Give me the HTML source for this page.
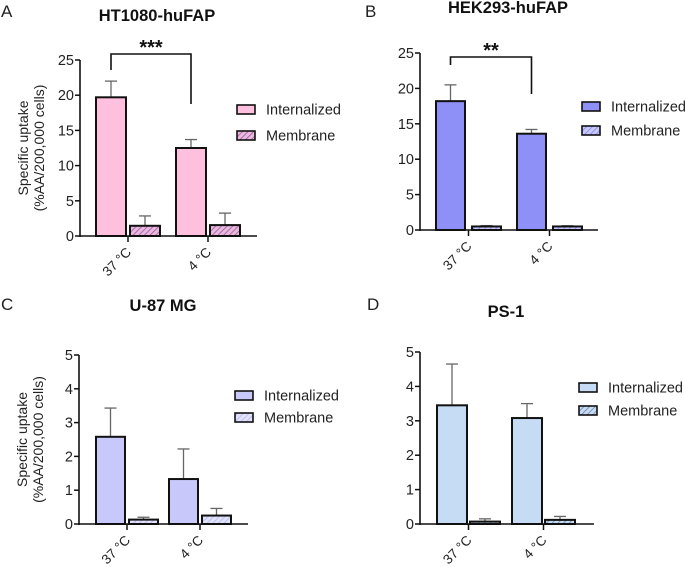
<!DOCTYPE html>
<html><head><meta charset="utf-8"><style>
body{margin:0;background:#fff}
svg{display:block;font-family:"Liberation Sans",Arial,sans-serif}
</style></head><body>
<svg id="c" width="685" height="567" viewBox="0 0 685 567">
<defs>
<pattern id="hA" patternUnits="userSpaceOnUse" width="4" height="4" patternTransform="rotate(45)"><rect width="4" height="4" fill="#e8b8e0"/><line x1="0" y1="0" x2="0" y2="4" stroke="#9a5a90" stroke-width="1.6"/></pattern>
<pattern id="hB" patternUnits="userSpaceOnUse" width="4" height="4" patternTransform="rotate(45)"><rect width="4" height="4" fill="#c8c8fb"/><line x1="0" y1="0" x2="0" y2="4" stroke="#7b7bf0" stroke-width="1.4"/></pattern>
<pattern id="hC" patternUnits="userSpaceOnUse" width="4" height="4" patternTransform="rotate(45)"><rect width="4" height="4" fill="#e2e2fc"/><line x1="0" y1="0" x2="0" y2="4" stroke="#b0b0f0" stroke-width="1.4"/></pattern>
<pattern id="hD" patternUnits="userSpaceOnUse" width="4" height="4" patternTransform="rotate(45)"><rect width="4" height="4" fill="#c6dcf5"/><line x1="0" y1="0" x2="0" y2="4" stroke="#667c99" stroke-width="1.4"/></pattern>
</defs>
</svg>
<script>
const categories=["37 °C","4 °C"];
const seriesNames=["Internalized","Membrane"];
const titles=["HT1080-huFAP","HEK293-huFAP","U-87 MG","PS-1"];
const intA=[19.7,12.5], intAErr=[22.0,13.7], memA=[1.45,1.55], memAErr=[2.85,3.25];
const intB=[18.2,13.6], intBErr=[20.5,14.2], memB=[0.5,0.5], memBErr=[0.62,0.6];
const intC=[2.58,1.33], intCErr=[3.43,2.22], memC=[0.13,0.25], memCErr=[0.2,0.46];
const intD=[3.45,3.08], intDErr=[4.65,3.5], memD=[0.07,0.12], memDErr=[0.15,0.22];
const ticks25=[0,5,10,15,20,25], ticks5=[0,1,2,3,4,5];
const sigA="***", sigB="**";

const svg=document.getElementById('c');
const NS='http://www.w3.org/2000/svg';
function mk(tag,attrs,parent,text){const e=document.createElementNS(NS,tag);for(const k in attrs)e.setAttribute(k,attrs[k]);if(text!==undefined)e.textContent=text;(parent||svg).appendChild(e);return e;}

const panels=[
 {id:'a',letter:'A',lx:1,ly:17,title:titles[0],tx:157,ty:21,ax:80,y0:236,ytop:60,xend:257,max:25,ticks:ticks25,
  gx:[96,176],bw:30,gap:4,int:intA,intE:intAErr,mem:memA,memE:memAErr,fill:'#ffc0df',hatch:'url(#hA)',
  legX:237,legY:[109,135],sig:sigA,br:{y:54,l:70,r:104},ytitle:true},
 {id:'b',letter:'B',lx:365,ly:17,title:titles[1],tx:508,ty:13,ax:420,y0:230,ytop:53,xend:598,max:25,ticks:ticks25,
  gx:[436,517],bw:29,gap:7,int:intB,intE:intBErr,mem:memB,memE:memBErr,fill:'#8f8ff8',hatch:'url(#hB)',
  legX:582,legY:[106,130],sig:sigB,br:{y:57,l:65,r:94},ytitle:false},
 {id:'c',letter:'C',lx:1,ly:310,title:titles[2],tx:163,ty:311,ax:79,y0:524,ytop:355,xend:248,max:5,ticks:ticks5,
  gx:[96,169],bw:29,gap:4,int:intC,intE:intCErr,mem:memC,memE:memCErr,fill:'#c8c8fa',hatch:'url(#hC)',
  legX:235,legY:[395,417],sig:null,ytitle:true},
 {id:'d',letter:'D',lx:367,ly:310,title:titles[3],tx:506,ty:317,ax:420,y0:524,ytop:352,xend:594,max:5,ticks:ticks5,
  gx:[437,512],bw:30,gap:3,int:intD,intE:intDErr,mem:memD,memE:memDErr,fill:'#c6dcf5',hatch:'url(#hD)',
  legX:579,legY:[387,410],sig:null,ytitle:false}
];

panels.forEach(p=>{
 const g=mk('g',{});
 
 
 const y=v=>p.y0-(v/p.max)*(p.y0-p.ytop);
 const L=mk('text',{x:p.lx,y:p.ly,'font-size':17,fill:'#222'},g,p.letter);
 
 const T=mk('text',{x:p.tx,y:p.ty,'font-size':16.5,'font-weight':'bold','text-anchor':'middle',fill:'#111'},g,p.title);
 
 for(let i=0;i<categories.length;i++){
  const series=[[p.int,p.intE,p.fill,'internalized'],[p.mem,p.memE,p.hatch,'membrane']];
  series.forEach((s,j)=>{
   const x=p.gx[i]+j*(p.bw+p.gap), v=s[0][i], e=s[1][i], cx=x+p.bw/2;
   const el=mk('line',{x1:cx,x2:cx,y1:y(v),y2:y(e),stroke:'#666','stroke-width':1.3},g);
   
   const cap=mk('line',{x1:cx-6,x2:cx+6,y1:y(e),y2:y(e),stroke:'#666','stroke-width':1.3},g);
   
   const r=mk('rect',{x:x,y:y(v),width:p.bw,height:p.y0-y(v),fill:s[2],stroke:'#111','stroke-width':2},g);
   
  });
  const tx=p.gx[i]+p.bw+p.gap/2;
  const tk=mk('line',{x1:tx,x2:tx,y1:p.y0,y2:p.y0+6,stroke:'#111','stroke-width':1.5},g);
  
  const lb=mk('text',{x:tx+4,y:p.y0+17,'font-size':13.5,'text-anchor':'end',fill:'#222',transform:`rotate(-45 ${tx+4} ${p.y0+17})`},g,categories[i]);
  
 }
 const ya=mk('line',{x1:p.ax,x2:p.ax,y1:p.ytop,y2:p.y0+1,stroke:'#111','stroke-width':1.6},g);
 
 const xa=mk('line',{x1:p.ax,x2:p.xend,y1:p.y0,y2:p.y0,stroke:'#111','stroke-width':1.6},g);
 
 p.ticks.forEach(t=>{
  const l=mk('line',{x1:p.ax-5,x2:p.ax,y1:y(t),y2:y(t),stroke:'#111','stroke-width':1.5},g);
  
  const tt=mk('text',{x:p.ax-6,y:y(t)+5,'font-size':14.5,'text-anchor':'end',fill:'#222'},g,String(t));
  
 });
 if(p.ytitle){
  const cy=(p.y0+p.ytop)/2;
  const t1=mk('text',{x:0,y:0,'font-size':14,'text-anchor':'middle',fill:'#222',transform:`translate(${p.ax-52} ${cy}) rotate(-90)`},g,'Specific uptake');
  
  const t2=mk('text',{x:0,y:16,'font-size':14,'text-anchor':'middle',fill:'#222',transform:`translate(${p.ax-52} ${cy}) rotate(-90)`},g,'(%AA/200,000 cells)');
  
 }
 if(p.sig){
  const lx=p.gx[0]+p.bw/2, rx=p.gx[1]+p.bw/2;
  const pl=mk('polyline',{points:`${lx},${p.br.l} ${lx},${p.br.y} ${rx},${p.br.y} ${rx},${p.br.r}`,fill:'none',stroke:'#111','stroke-width':1.6},g);
  
  const st=mk('text',{x:(lx+rx)/2,y:p.br.y,'font-size':20,'font-weight':'bold','text-anchor':'middle',fill:'#111'},g,p.sig);
  
 }
 [[p.fill,seriesNames[0]],[p.hatch,seriesNames[1]]].forEach((s,j)=>{
  const r=mk('rect',{x:p.legX,y:p.legY[j]-4,width:18,height:9,fill:s[0],stroke:'#111','stroke-width':1.6},g);
  
  const t=mk('text',{x:p.legX+29,y:p.legY[j]+5.5,'font-size':14.5,fill:'#222'},g,s[1]);
  
 });
});
</script>
</body></html>
